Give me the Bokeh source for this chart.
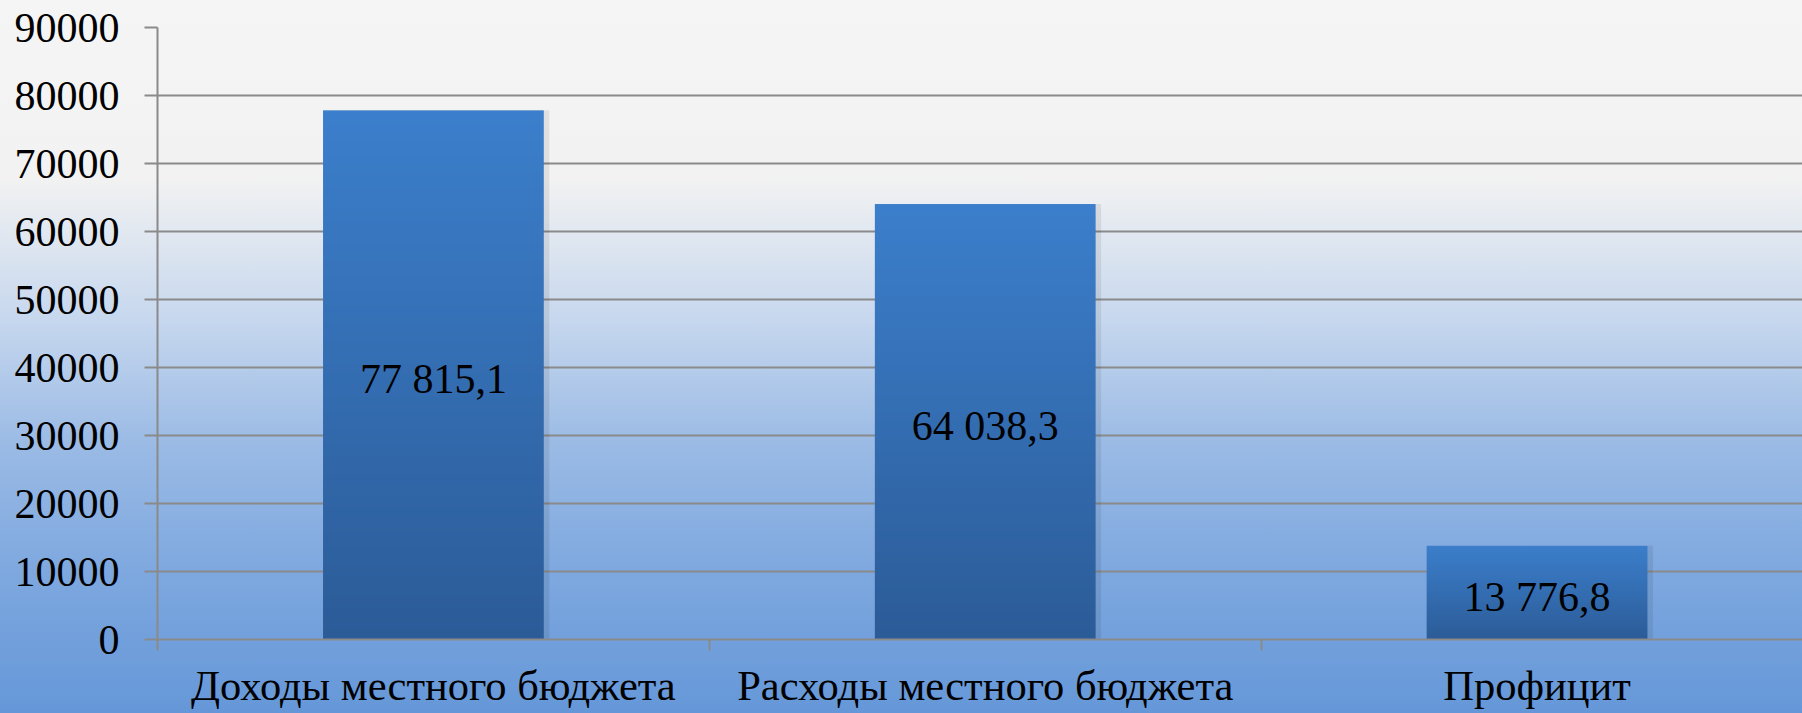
import numpy as np
from bokeh.plotting import figure
from bokeh.models import Range1d, FixedTicker, ColumnDataSource
from bokeh.core.properties import value
from bokeh.embed import file_html
from bokeh.resources import INLINE

categories = ["Доходы местного бюджета", "Расходы местного бюджета", "Профицит"]
values = [77815.1, 64038.3, 13776.8]
y_ticks = [0, 10000, 20000, 30000, 40000, 50000, 60000, 70000, 80000, 90000]


def fmt(v):
    s = f"{v:,.1f}"
    return s.replace(",", " ").replace(".", ",")


labels = [fmt(v) for v in values]
xs = [i + 0.5 for i in range(len(categories))]

FONT = "Liberation Serif"
GRID = "#8a8a8a"

p = figure(width=1802, height=713, output_backend="svg", toolbar_location=None,
           x_range=Range1d(0, 2.981), y_range=Range1d(0, 90000),
           min_border_left=157, min_border_top=27, min_border_right=0,
           min_border_bottom=74)
p.background_fill_alpha = 0
p.border_fill_alpha = 0
p.outline_line_color = None
p.styles = {"background": "linear-gradient(to bottom, #f5f5f5 0%, #f2f2f2 25%, "
                          "#c6d7ee 45%, #9bbbe5 62%, #7ea8df 80%, #6597d8 100%)"}

# grid
p.xgrid.grid_line_color = None
p.ygrid.ticker = FixedTicker(ticks=y_ticks)
p.ygrid.grid_line_color = GRID
p.ygrid.grid_line_width = 2

# bar shadows
src_sh = ColumnDataSource(dict(x=[x + 0.005 for x in xs], top=values))
p.vbar(x="x", top="top", bottom=-500, width=0.41, source=src_sh,
       fill_color="#000000", fill_alpha=0.08, line_color=None)

# bars with vertical gradient
n = 256
top_c = np.array([0x3c, 0x7f, 0xcc])
bot_c = np.array([0x2c, 0x5c, 0x98])
img = np.zeros((n, 1), dtype=np.uint32)
view = img.view(dtype=np.uint8).reshape((n, 1, 4))
for i in range(n):
    t = i / (n - 1)  # 0 bottom, 1 top
    c = bot_c + (top_c - bot_c) * t
    view[i, 0, 0] = int(c[0])
    view[i, 0, 1] = int(c[1])
    view[i, 0, 2] = int(c[2])
    view[i, 0, 3] = 255
p.image_rgba(image=[img] * len(values), x=[x - 0.2 for x in xs], y=[0] * len(values),
             dw=[0.4] * len(values), dh=values)

# value labels
src_lab = ColumnDataSource(dict(x=xs, y=[v / 2 for v in values], t=labels))
p.text(x="x", y="y", text="t", source=src_lab, text_align="center",
       text_baseline="middle", text_font=value(FONT), text_font_size="42px",
       text_color="#000000", y_offset=4)

# y axis
ya = p.yaxis[0]
ya.ticker = FixedTicker(ticks=y_ticks)
ya.axis_line_color = GRID
ya.axis_line_width = 2
ya.major_tick_line_color = GRID
ya.major_tick_line_width = 2
ya.major_tick_out = 13
ya.major_tick_in = 0
ya.minor_tick_line_color = None
ya.major_label_standoff = 25
ya.major_label_text_font = FONT
ya.major_label_text_font_size = "42px"
ya.major_label_text_color = "#000000"

# x axis
xa = p.xaxis[0]
xa.ticker = FixedTicker(ticks=xs, minor_ticks=[0, 1, 2, 3])
xa.major_label_overrides = {x: c for x, c in zip(xs, categories)}
xa.axis_line_color = GRID
xa.axis_line_width = 2
xa.major_tick_line_color = None
xa.major_tick_out = 0
xa.major_tick_in = 0
xa.minor_tick_line_color = GRID
xa.minor_tick_line_width = 2
xa.minor_tick_out = 11
xa.minor_tick_in = 0
xa.major_label_standoff = 11
xa.major_label_text_font = FONT
xa.major_label_text_font_size = "42.5px"
xa.major_label_text_color = "#000000"

open("out.html", "w").write(file_html(p, INLINE))
